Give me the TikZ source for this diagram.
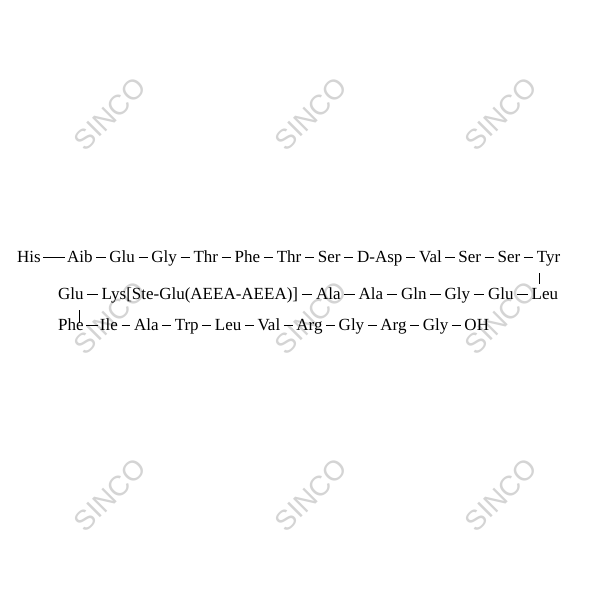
\documentclass[tikz,border=0pt]{standalone}
\usepackage{fontspec}
\setmainfont{Liberation Serif}
\newfontfamily\wmfont{Liberation Sans}
\usetikzlibrary{positioning}
\begin{document}
\begin{tikzpicture}[x=1pt,y=1pt,
  res/.style={inner sep=0pt, text height=14pt, text depth=2pt, font=\fontsize{17pt}{20pt}\selectfont},
  bond/.style={line width=0.8pt, shorten >=3.5pt, shorten <=3.5pt},
  longbond/.style={line width=0.8pt, shorten >=2pt, shorten <=2pt},
  vbond/.style={line width=0.8pt},
  wm/.style={rotate=45, text=black!17, font=\wmfont\fontsize{28pt}{30pt}\selectfont}]
\useasboundingbox (0,0) rectangle (600,600);
\fill[white] (0,0) rectangle (600,600);
% watermarks
\foreach \x in {110,311,501}{
  \foreach \y in {486,282,105}{
    \node[wm] at (\x,\y) {SINCO};
  }
}
% row 1
\node[res, anchor=base west] (h1) at (17,337) {His};
\node[res, right=26pt of h1] (h2) {Aib};
\node[res, right=16.2pt of h2] (h3) {Glu};
\node[res, right=16.2pt of h3] (h4) {Gly};
\node[res, right=16.2pt of h4] (h5) {Thr};
\node[res, right=16.2pt of h5] (h6) {Phe};
\node[res, right=16.2pt of h6] (h7) {Thr};
\node[res, right=16.2pt of h7] (h8) {Ser};
\node[res, right=16.2pt of h8] (h9) {D-Asp};
\node[res, right=16.2pt of h9] (h10) {Val};
\node[res, right=16.2pt of h10] (h11) {Ser};
\node[res, right=16.2pt of h11] (h12) {Ser};
\node[res, right=16.2pt of h12] (h13) {Tyr};
\draw[longbond] (h1) -- (h2);
\foreach \a/\b in {h2/h3,h3/h4,h4/h5,h5/h6,h6/h7,h7/h8,h8/h9,h9/h10,h10/h11,h11/h12,h12/h13}
  \draw[bond] (\a) -- (\b);
% row 2
\node[res, anchor=base west] (m1) at (58,300) {Glu};
\node[res, right=17.6pt of m1] (m2) {Lys[Ste-Glu(AEEA-AEEA)]};
\node[res, right=17.6pt of m2] (m3) {Ala};
\node[res, right=17.6pt of m3] (m4) {Ala};
\node[res, right=17.6pt of m4] (m5) {Gln};
\node[res, right=17.6pt of m5] (m6) {Gly};
\node[res, right=17.6pt of m6] (m7) {Glu};
\node[res, right=17.6pt of m7] (m8) {Leu};
\foreach \a/\b in {m1/m2,m2/m3,m3/m4,m4/m5,m5/m6,m6/m7,m7/m8}
  \draw[bond] (\a) -- (\b);
% row 3
\node[res, anchor=base west] (b1) at (58,269) {Phe};
\node[res, right=15.8pt of b1] (b2) {Ile};
\node[res, right=15.8pt of b2] (b3) {Ala};
\node[res, right=15.8pt of b3] (b4) {Trp};
\node[res, right=15.8pt of b4] (b5) {Leu};
\node[res, right=15.8pt of b5] (b6) {Val};
\node[res, right=15.8pt of b6] (b7) {Arg};
\node[res, right=15.8pt of b7] (b8) {Gly};
\node[res, right=15.8pt of b8] (b9) {Arg};
\node[res, right=15.8pt of b9] (b10) {Gly};
\node[res, right=15.8pt of b10] (b11) {OH};
\draw[longbond] (b1) -- (b2);
\foreach \a/\b in {b2/b3,b3/b4,b4/b5,b5/b6,b6/b7,b7/b8,b8/b9,b9/b10,b10/b11}
  \draw[bond] (\a) -- (\b);
% vertical bonds
\coordinate (t1) at ([xshift=2.5pt,yshift=-8pt]h13.south west);
\coordinate (l1) at ([yshift=2pt]m8.north);
\draw[vbond] (t1) -- (t1 |- l1);
\coordinate (g1) at ([xshift=21pt,yshift=-8pt]m1.south west);
\coordinate (p1) at ([yshift=-6pt]b1.north);
\draw[vbond] (g1) -- (g1 |- p1);
\end{tikzpicture}
\end{document}
